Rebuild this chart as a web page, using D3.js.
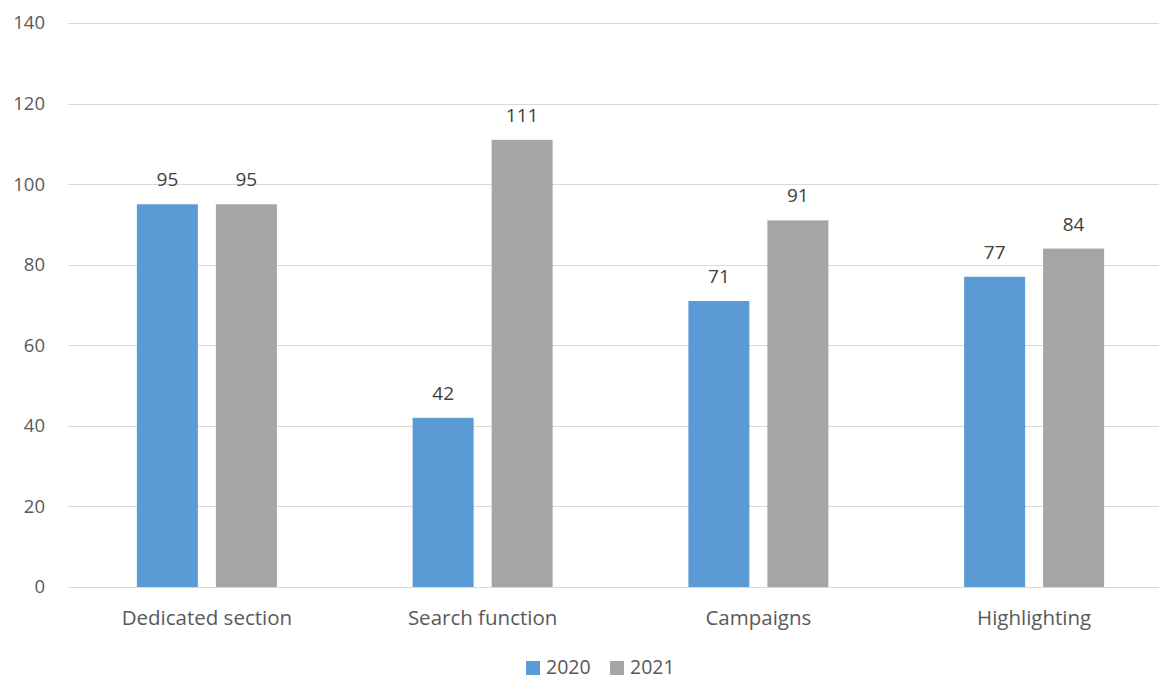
<!DOCTYPE html>
<html><head><meta charset="utf-8">
<script src="https://cdn.jsdelivr.net/npm/d3@7"></script>
<style>body{margin:0;background:#fff;} svg{display:block;font-family:"Open Sans",sans-serif;}</style>
</head><body><svg id="c" width="1159" height="679"></svg>
<script>
const categories = ["Dedicated section", "Search function", "Campaigns", "Highlighting"];
const seriesNames = ["2020", "2021"];
const values2020 = [95, 42, 71, 77];
const values2021 = [95, 111, 91, 84];
const yTicks = [0, 20, 40, 60, 80, 100, 120, 140];
const colors = ["#5B9BD5", "#A5A5A5"];

const seriesValues = [values2020, values2021];
const svg = d3.select("#c");
const W = 1159;
const y = d3.scaleLinear().domain([0, 140]).range([587, 23]);
const x0 = d3.scaleBand().domain(categories).range([69, 1172]).padding(0);
const x1 = d3.scaleBand().domain(seriesNames).range([-70, 70]).paddingInner(0.228).paddingOuter(0);

// gridlines
svg.append("g").selectAll("line").data(yTicks).join("line")
  .attr("x1", 68).attr("x2", W)
  .attr("y1", d => Math.round(y(d)) + 0.5).attr("y2", d => Math.round(y(d)) + 0.5)
  .attr("stroke", "#D9D9D9").attr("stroke-width", 1);

// y labels
const yAxis = d3.axisLeft(y).tickValues(yTicks).tickSize(0).tickPadding(0);
const ga = svg.append("g").attr("transform", "translate(45,0)").call(yAxis);
ga.select(".domain").remove();
ga.selectAll("text").attr("fill", "#595959").style("font-size", "18.5px").style("font-family", "'Open Sans',sans-serif");

// bars
const groups = svg.append("g").selectAll("g").data(categories).join("g")
  .attr("transform", c => `translate(${x0(c) + x0.bandwidth() / 2},0)`);
groups.each(function(c, i) {
  const g = d3.select(this);
  seriesNames.forEach((s, j) => {
    const v = seriesValues[j][i];
    g.append("rect").attr("x", x1(s)).attr("width", x1.bandwidth())
      .attr("y", y(v)).attr("height", y(0) - y(v)).attr("fill", colors[j]);
    g.append("text").attr("x", x1(s) + x1.bandwidth() / 2).attr("y", y(v) - 18)
      .attr("text-anchor", "middle").attr("fill", "#404040").style("font-size", "19px").text(v);
  });
});

// x axis line
svg.append("line").attr("x1", 68).attr("x2", W).attr("y1", 587.5).attr("y2", 587.5).attr("stroke", "#D9D9D9");
// x labels
const xAxis = d3.axisBottom(x0).tickSize(0).tickPadding(0);
const gx = svg.append("g").attr("transform", "translate(0,625)").call(xAxis);
gx.select(".domain").remove();
gx.selectAll("text").attr("fill", "#595959").style("font-size", "20.5px").style("font-family", "'Open Sans',sans-serif").attr("dy", "0").attr("y", 0);

// legend
const leg = svg.append("g");
const legX = [526, 610];
seriesNames.forEach((s, j) => {
  leg.append("rect").attr("x", legX[j]).attr("y", 661).attr("width", 14).attr("height", 14).attr("fill", colors[j]);
  leg.append("text").attr("x", legX[j] + 20).attr("y", 674)
    .attr("fill", "#595959").style("font-size", "19.5px").text(s);
});
</script></body></html>
